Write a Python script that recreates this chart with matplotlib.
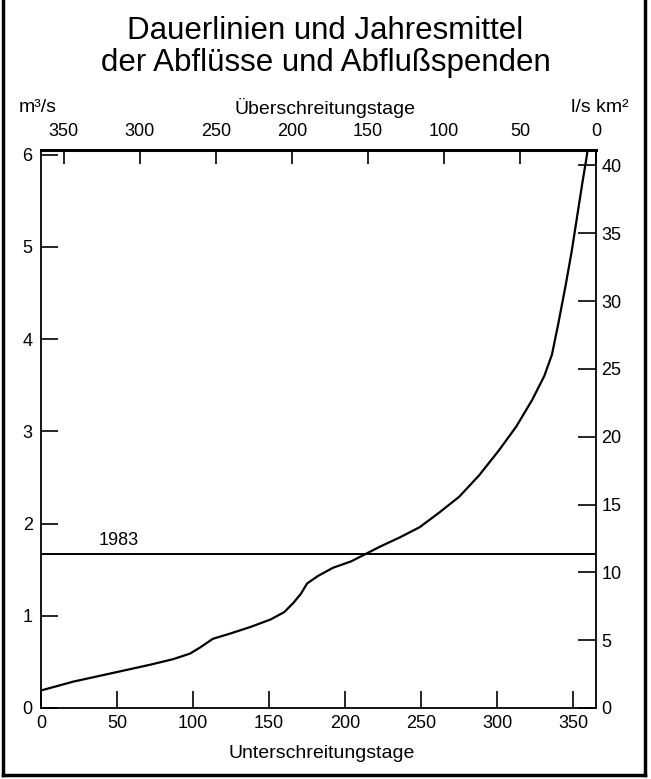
"""
Dauerlinien und Jahresmittel der Abflüsse und Abflußspenden
"""
import matplotlib
matplotlib.use('Agg')
import matplotlib.pyplot as plt
from matplotlib.lines import Line2D

plt.rcParams['font.family'] = ['Liberation Sans', 'DejaVu Sans']

# duration curve: Unterschreitungstage vs. Abfluss (m³/s)
days = [0, 21, 50, 72, 87, 98, 105, 113, 125, 138, 151, 160, 166, 171, 175,
        182, 192, 204, 213.5, 223, 236, 249, 262, 275, 288, 301, 312.5, 323,
        331, 336, 340, 345, 349, 352.5, 356, 358.5, 359.5, 360.5]
flow = [0.19, 0.285, 0.39, 0.47, 0.53, 0.59, 0.66, 0.75, 0.81, 0.88, 0.96,
        1.04, 1.14, 1.24, 1.35, 1.43, 1.52, 1.59, 1.67, 1.75, 1.85, 1.96,
        2.12, 2.29, 2.52, 2.79, 3.05, 3.34, 3.60, 3.83, 4.15, 4.58, 4.95,
        5.32, 5.69, 5.94, 6.05, 6.2]
mean_1983 = 1.67
spende_factor = 6.8   # l/s km² per m³/s

x_ticks = [0, 50, 100, 150, 200, 250, 300, 350]
y_ticks = [0, 1, 2, 3, 4, 5, 6]
y2_ticks = [0, 5, 10, 15, 20, 25, 30, 35, 40]

W, H = 651, 779
fig = plt.figure(figsize=(W / 100, H / 100), dpi=100)
ax = fig.add_axes([41 / W, 1 - 708 / H, (596 - 41) / W, (708 - 150) / H])

ax.plot(days, flow, color='black', lw=1.6, solid_joinstyle='round')
ax.axhline(mean_1983, color='black', lw=1.4)
ax.text(51, mean_1983 + 0.05, '1983', fontsize=13, ha='center', va='bottom')

ax.set_xlim(0, 365)
ax.set_ylim(0, 6.05)
ax.set_xticks(x_ticks)
ax.set_yticks(y_ticks)
ax.tick_params(axis='x', direction='in', length=12, width=1.2, labelsize=13, pad=5)
ax.tick_params(axis='y', direction='in', length=12, width=1.2, labelsize=13, pad=6)
for s in ['left', 'bottom', 'right']:
    ax.spines[s].set_linewidth(1.3)
ax.spines['top'].set_linewidth(2.2)

# right axis: Abflußspende
ax2 = ax.twinx()
ax2.set_ylim(0, 6.05 * spende_factor)
ax2.set_yticks(y2_ticks)
ax2.tick_params(axis='y', direction='in', length=13, width=1.2, labelsize=13, pad=4)
for s in ax2.spines.values():
    s.set_visible(False)

# top axis: Überschreitungstage
top = ax.secondary_xaxis('top', functions=(lambda x: 365 - x, lambda x: 365 - x))
top.set_xticks(x_ticks)
top.tick_params(direction='in', length=10, width=1.2, labelsize=13, pad=7)
top.spines['top'].set_visible(False)

fig.text(0.5, 1 - 31 / H, 'Dauerlinien und Jahresmittel', fontsize=22.5, ha='center', va='center')
fig.text(0.5, 1 - 63 / H, 'der Abflüsse und Abflußspenden', fontsize=22.5, ha='center', va='center')
fig.text(38 / W, 1 - 108 / H, 'm³/s', fontsize=14, ha='center', va='center')
fig.text(325 / W, 1 - 108 / H, 'Überschreitungstage', fontsize=14, ha='center', va='center')
fig.text(600 / W, 1 - 108 / H, 'l/s km²', fontsize=14, ha='center', va='center')
fig.text(322 / W, 1 - 753 / H, 'Unterschreitungstage', fontsize=14, ha='center', va='center')

# outer frame (top edge cut off)
for xs, ys in [([3 / W, 3 / W], [1, 1 - 775 / H]),
               ([645 / W, 645 / W], [1, 1 - 775 / H]),
               ([3 / W, 645 / W], [1 - 775 / H, 1 - 775 / H])]:
    fig.add_artist(Line2D(xs, ys, color='black', lw=2.5, transform=fig.transFigure))

fig.savefig('out.png', dpi=100)
